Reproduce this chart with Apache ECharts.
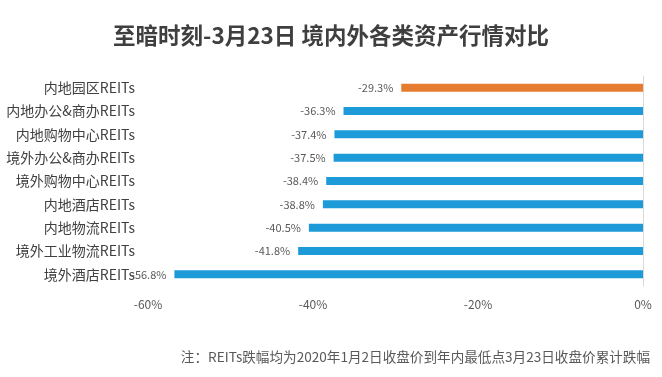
<!DOCTYPE html>
<html>
<head>
<meta charset="utf-8">
<script src="https://cdn.jsdelivr.net/npm/echarts@6/dist/echarts.min.js"></script>
<style>
  html, body { margin: 0; padding: 0; background: #fff; }
  #chart { width: 662px; height: 377px; }
</style>
</head>
<body>
<div id="chart"></div>
<script>
// 数据
const categories = ['内地园区REITs', '内地办公&商办REITs', '内地购物中心REITs', '境外办公&商办REITs',
  '境外购物中心REITs', '内地酒店REITs', '内地物流REITs', '境外工业物流REITs', '境外酒店REITs']
const values = [-29.3, -36.3, -37.4, -37.5, -38.4, -38.8, -40.5, -41.8, -56.8]
const highlight = [true, false, false, false, false, false, false, false, false]
const xTicks = [-60, -40, -20, 0]

const FONT = '"Noto Sans CJK SC", "Noto Sans", sans-serif'
const BLUE = '#1c9bd8'
const ORANGE = '#e57c2f'

let chart = echarts.init(document.getElementById('chart'))
chart.setOption({
  backgroundColor: '#fff',
  animation: false,
  title: {
    text: '至暗时刻-3月23日 境内外各类资产行情对比',
    left: 'center',
    top: 19,
    textStyle: {fontFamily: FONT, fontSize: 22.5, fontWeight: 'bold', color: '#3f3f3f'}
  },
  graphic: [{
    type: 'text',
    right: 12,
    top: 350,
    style: {
      text: '注：REITs跌幅均为2020年1月2日收盘价到年内最低点3月23日收盘价累计跌幅',
      font: '13.6px ' + FONT,
      fill: '#595959'
    }
  }],
  grid: {left: 148, right: 19, top: 76, bottom: 91, containLabel: false},
  xAxis: {
    type: 'value',
    min: xTicks[0],
    max: xTicks[xTicks.length - 1],
    interval: 20,
    axisLine: {show: false},
    axisTick: {show: false},
    splitLine: {show: false},
    axisLabel: {
      formatter: v => v + '%',
      fontFamily: FONT, fontSize: 12, color: '#595959', margin: 12
    }
  },
  yAxis: [{
    type: 'category',
    data: categories,
    inverse: true,
    position: 'left',
    axisLine: {show: false},
    axisTick: {show: false},
    axisLabel: {fontFamily: FONT, fontSize: 14, color: '#404040', margin: 13}
  }, {
    type: 'category',
    data: categories,
    inverse: true,
    position: 'right',
    axisLine: {show: true, lineStyle: {color: '#d9d9d9', width: 1}},
    axisTick: {show: false},
    axisLabel: {show: false}
  }],
  series: [{
    type: 'bar',
    yAxisIndex: 0,
    barWidth: 8,
    data: values.map((v, i) => ({
      value: v,
      itemStyle: {color: highlight[i] ? ORANGE : BLUE}
    })),
    label: {
      show: true,
      position: 'left',
      distance: 8,
      formatter: p => p.value.toFixed(1) + '%',
      fontFamily: FONT, fontSize: 11, color: '#595959'
    }
  }]
})
</script>
</body>
</html>
